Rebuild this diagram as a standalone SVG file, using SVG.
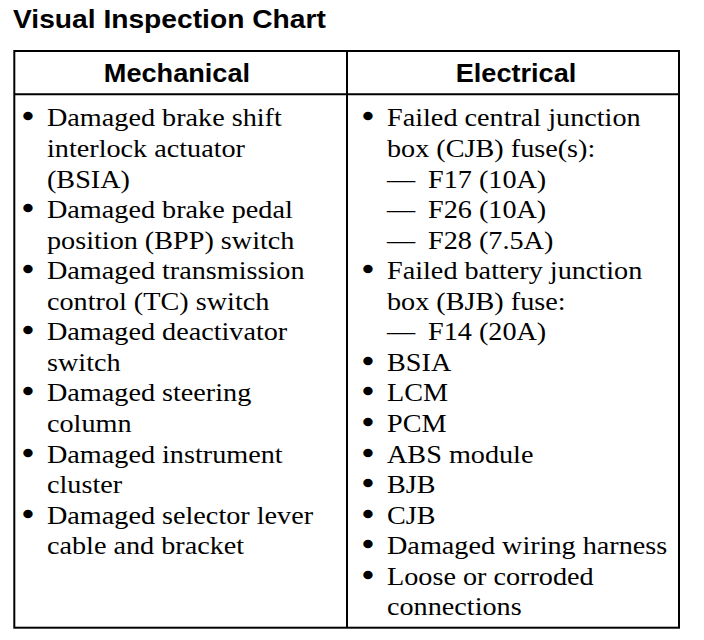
<svg xmlns="http://www.w3.org/2000/svg" width="704" height="640" viewBox="0 0 704 640">
<style>
.t{font-family:"Liberation Sans",Arial,sans-serif;font-weight:bold;font-size:26px;fill:#000}
.h{font-family:"Liberation Sans",Arial,sans-serif;font-weight:bold;font-size:25px;fill:#000;text-anchor:middle}
.b{font-family:"Liberation Serif","Times New Roman",serif;font-size:26px;fill:#000}
.d{font-family:"Liberation Serif","Times New Roman",serif;font-size:26px;fill:#000;stroke:#000;stroke-width:2.4;text-anchor:middle}
.ln{stroke:#000;stroke-width:2;fill:none}
</style>
<rect width="704" height="640" fill="#fff"/>
<g id="table-lines">
<rect class="ln" x="14.3" y="51" width="664.7" height="576.7"/>
<line class="ln" x1="14.3" y1="94.3" x2="679" y2="94.3"/>
<line class="ln" x1="347" y1="51" x2="347" y2="627.7"/>
</g>
<g transform="scale(1.085,1)">
<g id="title"><text class="t" x="12" y="28">Visual Inspection Chart</text></g>
<g id="header-mechanical"><text class="h" x="163.1" y="82">Mechanical</text></g>
<g id="header-electrical"><text class="h" x="475.6" y="82">Electrical</text></g>
<g id="mechanical-list">
<text class="d" x="25.8" y="125.5">•</text><text class="b" x="43.3" y="126.5">Damaged brake shift</text>
<text class="b" x="43.3" y="157.1">interlock actuator</text>
<text class="b" x="43.3" y="187.6">(BSIA)</text>
<text class="d" x="25.8" y="217.2">•</text><text class="b" x="43.3" y="218.2">Damaged brake pedal</text>
<text class="b" x="43.3" y="248.7">position (BPP) switch</text>
<text class="d" x="25.8" y="278.3">•</text><text class="b" x="43.3" y="279.3">Damaged transmission</text>
<text class="b" x="43.3" y="309.9">control (TC) switch</text>
<text class="d" x="25.8" y="339.4">•</text><text class="b" x="43.3" y="340.4">Damaged deactivator</text>
<text class="b" x="43.3" y="371">switch</text>
<text class="d" x="25.8" y="400.5">•</text><text class="b" x="43.3" y="401.5">Damaged steering</text>
<text class="b" x="43.3" y="432.1">column</text>
<text class="d" x="25.8" y="461.7">•</text><text class="b" x="43.3" y="462.7">Damaged instrument</text>
<text class="b" x="43.3" y="493.2">cluster</text>
<text class="d" x="25.8" y="522.8">•</text><text class="b" x="43.3" y="523.8">Damaged selector lever</text>
<text class="b" x="43.3" y="554.3">cable and bracket</text>
</g>
<g id="electrical-list">
<text class="d" x="339.2" y="125.5">•</text><text class="b" x="356.7" y="126.5">Failed central junction</text>
<text class="b" x="356.7" y="157.1">box (CJB) fuse(s):</text>
<text class="b" x="356.7" y="187.6">—<tspan x="394.5">F17 (10A)</tspan></text>
<text class="b" x="356.7" y="218.2">—<tspan x="394.5">F26 (10A)</tspan></text>
<text class="b" x="356.7" y="248.7">—<tspan x="394.5">F28 (7.5A)</tspan></text>
<text class="d" x="339.2" y="278.3">•</text><text class="b" x="356.7" y="279.3">Failed battery junction</text>
<text class="b" x="356.7" y="309.9">box (BJB) fuse:</text>
<text class="b" x="356.7" y="340.4">—<tspan x="394.5">F14 (20A)</tspan></text>
<text class="d" x="339.2" y="370">•</text><text class="b" x="356.7" y="371">BSIA</text>
<text class="d" x="339.2" y="400.5">•</text><text class="b" x="356.7" y="401.5">LCM</text>
<text class="d" x="339.2" y="431.1">•</text><text class="b" x="356.7" y="432.1">PCM</text>
<text class="d" x="339.2" y="461.7">•</text><text class="b" x="356.7" y="462.7">ABS module</text>
<text class="d" x="339.2" y="492.2">•</text><text class="b" x="356.7" y="493.2">BJB</text>
<text class="d" x="339.2" y="522.8">•</text><text class="b" x="356.7" y="523.8">CJB</text>
<text class="d" x="339.2" y="553.3">•</text><text class="b" x="356.7" y="554.3">Damaged wiring harness</text>
<text class="d" x="339.2" y="583.9">•</text><text class="b" x="356.7" y="584.9">Loose or corroded</text>
<text class="b" x="356.7" y="615.5">connections</text>
</g>
</g>
</svg>
